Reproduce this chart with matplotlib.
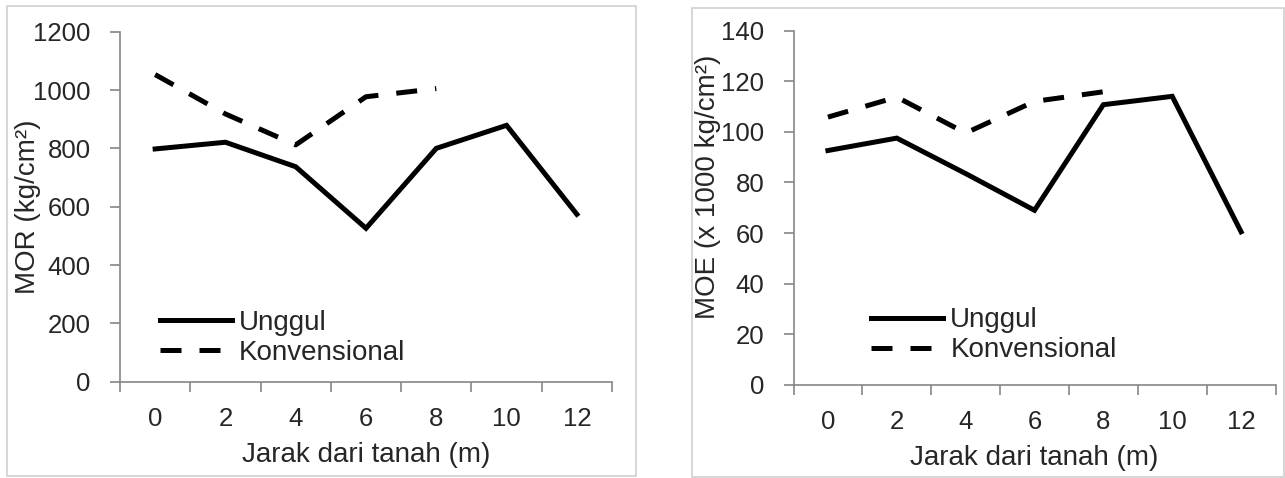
import matplotlib.pyplot as plt
from matplotlib.patches import Rectangle

# data
jarak = ['0', '2', '4', '6', '8', '10', '12']
mor_unggul = [798, 821, 737, 526, 800, 879, 574]
mor_konv = [1053, 918, 812, 977, 1005]
moe_unggul = [92.6, 97.5, 83.5, 69.0, 110.7, 114.0, 60.5]
moe_konv = [105.8, 113.7, 99.5, 112.0, 115.8]

plt.rcParams['font.family'] = ['Liberation Sans', 'DejaVu Sans']
TXT = '#262626'
AX = '#868686'
FS_TICK = 18.5
FS = 20

fig = plt.figure(figsize=(12.85, 4.78), dpi=100)
W, H = 1285, 478

# light panel borders
for x0, y0, x1, y1 in [(7, 6, 636, 476), (692, 8, 1284, 477)]:
    fig.patches.append(Rectangle((x0 / W, 1 - y1 / H), (x1 - x0) / W, (y1 - y0) / H,
                                 transform=fig.transFigure, fill=False,
                                 edgecolor='#cfcfcf', linewidth=1.2))


def draw(ax, unggul, konv, ymax, ystep, ylabel, leg_xy, ylab_xy):
    xs = list(range(len(jarak)))
    ax.plot(xs, unggul, color='black', lw=3.6, solid_joinstyle='miter', label='Unggul')
    ax.plot(xs[:len(konv)], konv, color='black', lw=3.6, linestyle=(0, (4.2, 3.6)),
            label='Konvensional')

    ax.set_xlim(-0.5, len(jarak) - 0.5)
    ax.set_ylim(0, ymax)
    ax.set_yticks(range(0, ymax + 1, ystep))
    # category axis: ticks on boundaries, labels in the middle
    ax.set_xticks([i - 0.5 for i in range(len(jarak) + 1)])
    ax.set_xticklabels([])
    ax.set_xticks(xs, minor=True)
    ax.set_xticklabels(jarak, minor=True)
    ax.tick_params(axis='x', which='major', direction='out', length=7, width=1.2, color=AX)
    ax.tick_params(axis='x', which='minor', length=0, pad=18, labelsize=FS_TICK, labelcolor=TXT)
    ax.tick_params(axis='y', direction='out', length=7, width=1.2, color=AX,
                   pad=14, labelsize=FS_TICK, labelcolor=TXT)

    for s in ['top', 'right']:
        ax.spines[s].set_visible(False)
    for s in ['left', 'bottom']:
        ax.spines[s].set_color(AX)
        ax.spines[s].set_linewidth(1.2)

    ax.set_xlabel('Jarak dari tanah (m)', fontsize=FS, color=TXT, labelpad=8)
    ax.set_ylabel(ylabel, fontsize=FS, color=TXT)
    ax.yaxis.set_label_coords(*ylab_xy)

    leg = ax.legend(loc='center left', bbox_to_anchor=leg_xy, frameon=False,
                    fontsize=FS, handlelength=2.6, handletextpad=0.25,
                    labelspacing=0.15, borderpad=0, borderaxespad=0)
    for t in leg.get_texts():
        t.set_color(TXT)


ax1 = fig.add_axes([120 / W, 1 - 381.7 / H, 492 / W, 350 / H])
draw(ax1, mor_unggul, mor_konv, 1200, 200, 'MOR (kg/cm²)',
     (0.081, 0.126), (-0.16, 0.5))

ax2 = fig.add_axes([793.5 / W, 1 - 385 / H, 482 / W, 354.5 / H])
draw(ax2, moe_unggul, moe_konv, 140, 20, 'MOE (x 1000 kg/cm²)',
     (0.161, 0.14), (-0.15, 0.558))

plt.savefig('out.png', dpi=100)
